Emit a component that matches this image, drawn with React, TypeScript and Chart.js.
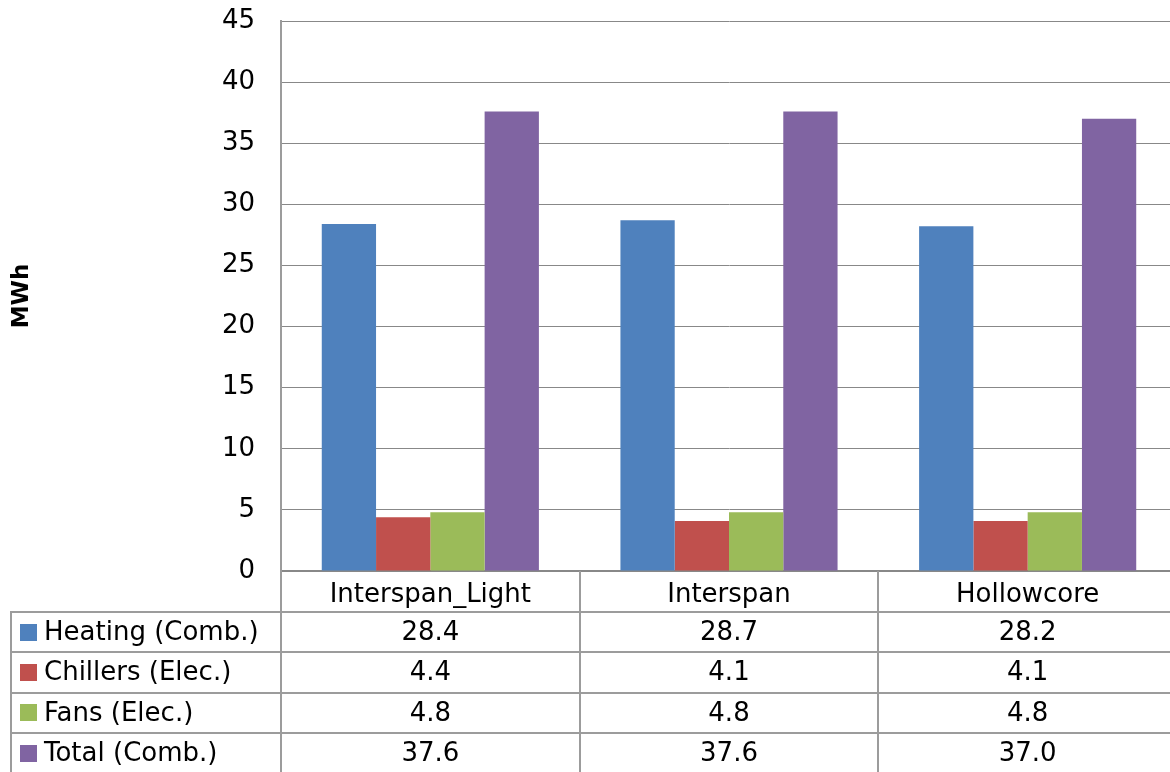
import React, { useEffect, useRef } from "react";
import { Chart, registerables } from "chart.js";

Chart.register(...registerables);

const categories = ["Interspan_Light", "Interspan", "Hollowcore"];
const seriesLabels = ["Heating (Comb.)", "Chillers (Elec.)", "Fans (Elec.)", "Total (Comb.)"];
const heatingValues = [28.4, 28.7, 28.2];
const chillersValues = [4.4, 4.1, 4.1];
const fansValues = [4.8, 4.8, 4.8];
const totalValues = [37.6, 37.6, 37.0];
const seriesColors = ["#4F81BD", "#C0504D", "#9BBB59", "#8064A2"];
const yMin = 0;
const yMax = 45;
const yStep = 5;
const yTitle = "MWh";

const FONT = "'DejaVu Sans', 'Liberation Sans', sans-serif";
const FONT_SIZE = 26;
const CANVAS_W = 1177;
const CANVAS_H = 772;

const tablePlugin = {
  id: "dataTable",
  afterDraw(chart: any) {
    const { ctx, chartArea } = chart;
    const xs = chart.scales.x;
    const n = categories.length;
    const step = n > 1 ? xs.getPixelForValue(1) - xs.getPixelForValue(0) : chartArea.right - chartArea.left;
    const top = chartArea.bottom;
    const headerH = 41;
    const rowH = 40.3;
    const tableLeft = 11;
    const bottom = chart.height;
    const datasets = chart.data.datasets;

    const line = (x1: number, y1: number, x2: number, y2: number) => {
      ctx.beginPath();
      ctx.moveTo(x1, y1);
      ctx.lineTo(x2, y2);
      ctx.stroke();
    };

    ctx.save();
    ctx.strokeStyle = "#9c9c9c";
    ctx.lineWidth = 2;
    for (let r = 0; r < datasets.length; r++) {
      const y = Math.round(top + headerH + r * rowH);
      line(tableLeft - 1, y, chartArea.right, y);
    }
    line(tableLeft, Math.round(top + headerH), tableLeft, bottom);
    for (let i = 0; i <= n; i++) {
      const xb = Math.round(xs.getPixelForValue(0) + (i - 0.5) * step);
      line(xb, top, xb, bottom);
    }

    ctx.font = `${FONT_SIZE}px ${FONT}`;
    ctx.fillStyle = "#000";
    ctx.textBaseline = "middle";
    for (let r = 0; r < datasets.length; r++) {
      const ds = datasets[r];
      const cy = top + headerH + r * rowH + rowH / 2;
      ctx.fillStyle = ds.backgroundColor;
      ctx.fillRect(20, Math.round(cy - 8.5), 17, 17);
      ctx.fillStyle = "#000";
      ctx.textAlign = "left";
      ctx.fillText(ds.label, 44, cy + 1);
      ctx.textAlign = "center";
      for (let i = 0; i < n; i++) {
        const v = ds.data[i];
        ctx.fillText(Number(v).toFixed(1), xs.getPixelForValue(i), cy + 1);
      }
    }
    ctx.restore();
  },
};

export default function App() {
  const canvasRef = useRef<HTMLCanvasElement | null>(null);

  useEffect(() => {
    document.body.style.margin = "0";
    const canvas = canvasRef.current;
    if (!canvas) return;
    const seriesValues = [heatingValues, chillersValues, fansValues, totalValues];
    const chart = new Chart(canvas, {
      type: "bar",
      data: {
        labels: categories,
        datasets: seriesLabels.map((label, i) => ({
          label,
          data: seriesValues[i],
          backgroundColor: seriesColors[i],
          borderWidth: 0,
          categoryPercentage: 0.727,
          barPercentage: 1,
        })),
      },
      options: {
        responsive: false,
        animation: false,
        layout: { padding: { top: 21, left: 0, right: 0, bottom: 0 } },
        plugins: {
          legend: { display: false },
          tooltip: { enabled: false },
        },
        scales: {
          x: {
            grid: { display: false, drawTicks: false },
            border: { display: true, color: "#888888", width: 2 },
            ticks: {
              color: "#000",
              font: { family: FONT, size: FONT_SIZE },
              padding: 9,
              maxRotation: 0,
              autoSkip: false,
            },
            afterFit: (s: any) => {
              s.height = 201;
              s.paddingLeft = 0;
              s.paddingRight = 0;
            },
          },
          y: {
            min: yMin,
            max: yMax,
            ticks: {
              stepSize: yStep,
              color: "#000",
              font: { family: FONT, size: FONT_SIZE },
              padding: 26,
            },
            grid: { color: "#888888", lineWidth: 1, drawTicks: false },
            border: { display: true, color: "#9c9c9c", width: 2 },
            title: {
              display: true,
              text: yTitle,
              color: "#000",
              font: { family: FONT, size: 23, weight: "bold" },
              padding: { top: 8, bottom: 0 },
            },
            afterFit: (s: any) => {
              s.width = 281;
              s.paddingTop = 0;
              s.paddingBottom = 0;
            },
          },
        },
      },
      plugins: [tablePlugin],
    } as any);
    return () => chart.destroy();
  }, []);

  return (
    <div style={{ width: 1170, height: 772, overflow: "hidden", background: "#fff" }}>
      <canvas ref={canvasRef} width={CANVAS_W} height={CANVAS_H} style={{ display: "block" }} />
    </div>
  );
}
